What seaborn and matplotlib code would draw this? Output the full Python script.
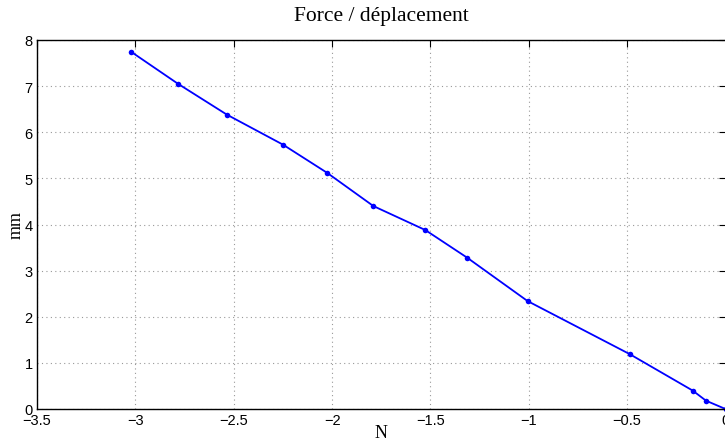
import matplotlib
matplotlib.use("Agg")
import matplotlib.pyplot as plt
import seaborn as sns
import pandas as pd

force_N = [-3.02, -2.783, -2.534, -2.249, -2.025, -1.79, -1.526, -1.313, -1.006, -0.487, -0.167, -0.099, 0.0]
disp_mm = [7.74, 7.05, 6.38, 5.73, 5.12, 4.40, 3.88, 3.28, 2.34, 1.19, 0.40, 0.18, 0.0]
xticks = [-3.5, -3, -2.5, -2, -1.5, -1, -0.5, 0]
yticks = [0, 1, 2, 3, 4, 5, 6, 7, 8]

df = pd.DataFrame({"N": force_N, "mm": disp_mm})

sns.set_theme(style="white")
plt.rcParams["font.family"] = ["Liberation Sans", "DejaVu Sans"]
plt.rcParams["axes.unicode_minus"] = True

fig = plt.figure(figsize=(7.25, 4.39), dpi=100)
ax = fig.add_axes([37 / 725, 1 - 410 / 439, (725.5 - 37) / 725, (410 - 41) / 439])

sns.lineplot(data=df, x="N", y="mm", ax=ax, color="#0000ff", linewidth=1.3,
             marker="o", markersize=4, markeredgewidth=0, sort=False, clip_on=False)

ax.set_xlim(-3.5, 0)
ax.set_ylim(0, 8)
ax.set_xticks(xticks)
ax.set_yticks(yticks)
ax.set_xticklabels([("\u2212" + f"{abs(v):g}") if v < 0 else f"{v:g}" for v in xticks])
ax.set_yticklabels([f"{v:g}" for v in yticks])

ax.grid(True, linestyle=(0, (1, 3)), color="#999999", linewidth=0.8)
ax.tick_params(direction="in", length=5, width=0.8, top=True, right=True,
               labelsize=10.5, colors="black", pad=3)
for s in ax.spines.values():
    s.set_color("black")
    s.set_linewidth(1.0)

serif = ["Liberation Serif", "DejaVu Serif"]
ax.set_title("Force / déplacement", family=serif, fontsize=15.5, pad=14.5, color="black")
ax.set_xlabel("N", family=serif, fontsize=13, labelpad=-2, color="black")
ax.set_ylabel("mm", family=serif, fontsize=13, labelpad=0, color="black")

fig.savefig("out.png", dpi=100)
